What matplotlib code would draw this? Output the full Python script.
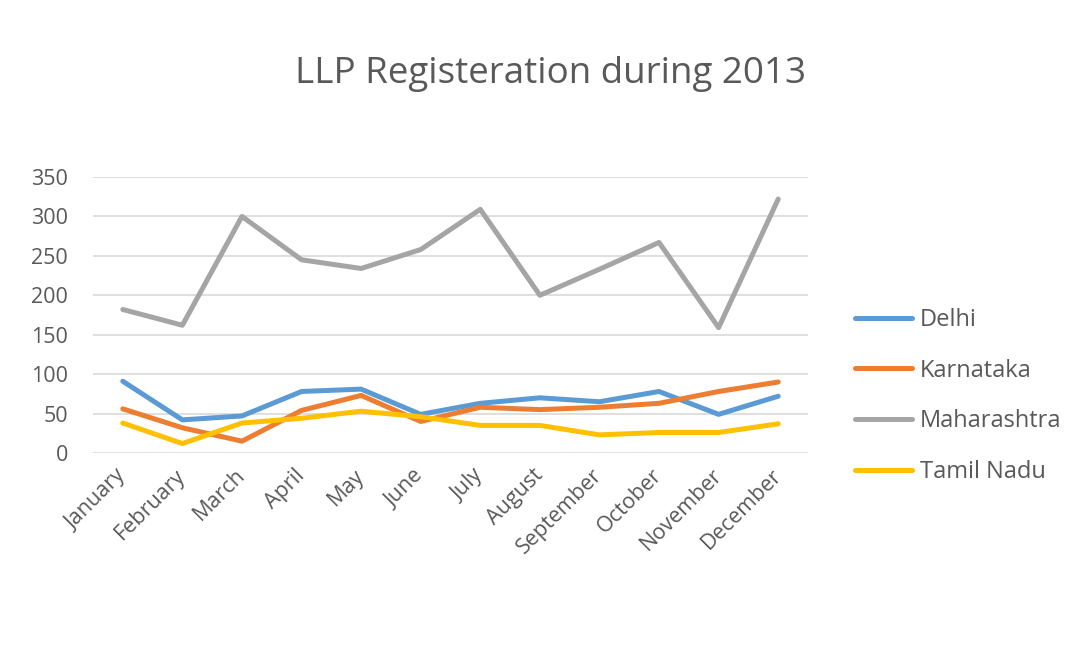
import numpy as np
import matplotlib.pyplot as plt

# LLP registrations per month, 2013
months = ['January', 'February', 'March', 'April', 'May', 'June', 'July',
          'August', 'September', 'October', 'November', 'December']
delhi = [91, 42, 47, 78, 81, 49, 63, 70, 65, 78, 49, 72]
karnataka = [56, 32, 15, 54, 73, 40, 58, 55, 58, 63, 78, 90]
maharashtra = [182, 162, 300, 245, 234, 258, 309, 200, 233, 267, 159, 322]
tamil_nadu = [38, 12, 38, 44, 53, 46, 35, 35, 23, 26, 26, 37]

series = [('Delhi', delhi, '#5B9BD5'),
          ('Karnataka', karnataka, '#ED7D31'),
          ('Maharashtra', maharashtra, '#A5A5A5'),
          ('Tamil Nadu', tamil_nadu, '#FFC000')]

plt.rcParams['font.family'] = ['Open Sans', 'DejaVu Sans']

fig = plt.figure(figsize=(10.87, 6.52), dpi=100)
ax = fig.add_axes([93 / 1087, 1 - 453 / 652, 715 / 1087, 276 / 652])

x = np.arange(len(months))
for name, vals, col in series:
    ax.plot(x, vals, color=col, lw=3.6, label=name, solid_capstyle='round',
            solid_joinstyle='round')

ax.set_xlim(-0.5, len(months) - 0.5)
ax.set_ylim(0, 350)
ax.set_yticks(range(0, 351, 50))
ax.set_xticks(x)
ax.set_xticklabels(months, rotation=45, ha='right', va='center',
                   rotation_mode='anchor')
ax.tick_params(length=0, colors='#595959', labelsize=15.5)
ax.tick_params(axis='y', pad=18)
ax.tick_params(axis='x', pad=14)
ax.grid(axis='y', color='#d9d9d9', lw=1.2)
ax.set_axisbelow(True)
for s in ax.spines.values():
    s.set_visible(False)

fig.text(0.506, 0.886, 'LLP Registeration during 2013', ha='center', va='center',
         fontsize=26.5, color='#595959')

leg = fig.legend(*ax.get_legend_handles_labels(), loc='upper left',
                 bbox_to_anchor=(855 / 1087, 1 - 308 / 652), frameon=False,
                 fontsize=17, labelspacing=1.13, handlelength=2.4,
                 handletextpad=0.35, borderpad=0, borderaxespad=0)
for t in leg.get_texts():
    t.set_color('#595959')

fig.savefig('out.png', dpi=100, facecolor='white')
